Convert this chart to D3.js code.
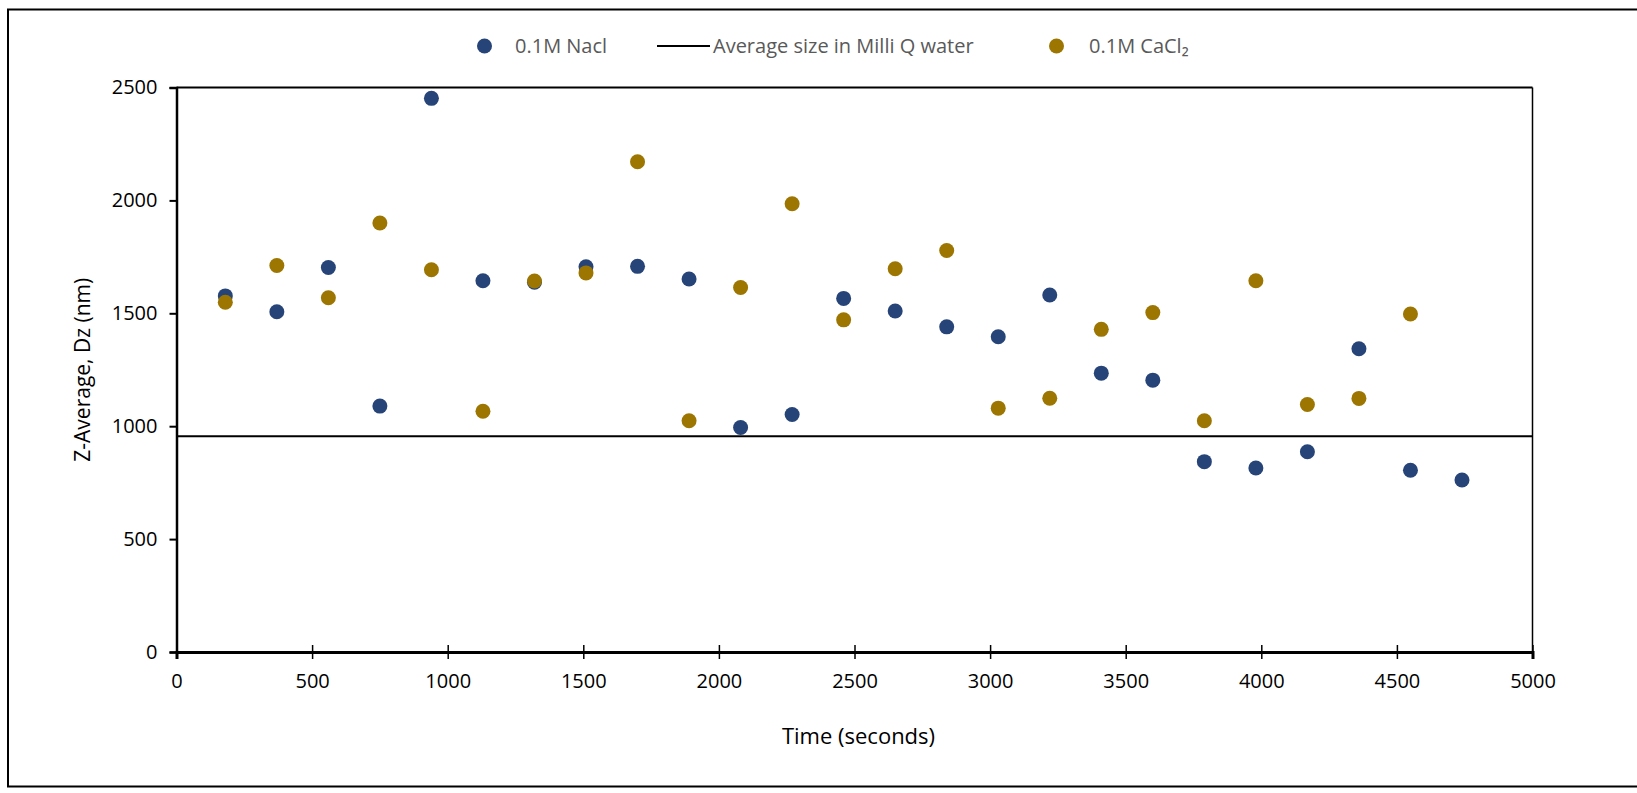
<!DOCTYPE html>
<html>
<head>
<meta charset="utf-8">
<script src="https://cdn.jsdelivr.net/npm/d3@7"></script>
<style>
  html, body { margin: 0; padding: 0; background: #ffffff; }
  svg { display: block; font-family: "Open Sans", "Noto Sans", sans-serif; }
</style>
</head>
<body>
<svg id="chart" width="1637" height="793"></svg>
<script>
// Sampling times (s)
const times = [180, 370, 560, 750, 940, 1130, 1320, 1510, 1700, 1890, 2080, 2270, 2460,
               2650, 2840, 3030, 3220, 3410, 3600, 3790, 3980, 4170, 4360, 4550, 4740];
// Z-average diameter in 0.1M NaCl (nm)
const naclValues = [1577, 1507, 1703, 1089, 2452, 1644, 1638, 1706, 1708, 1652, 994, 1052, 1566,
                    1510, 1440, 1396, 1581, 1235, 1204, 843, 815, 887, 1343, 805, 762];
// Z-average diameter in 0.1M CaCl2 (nm) — no reading at the last time point
const caclTimes  = times.slice(0, 24);
const caclValues = [1549, 1712, 1569, 1900, 1693, 1066, 1643, 1679, 2171, 1024, 1614, 1985, 1471,
                    1697, 1778, 1080, 1124, 1429, 1503, 1024, 1644, 1096, 1123, 1497];
// Reference level: average size in Milli Q water (nm)
const milliQAverage = 956;

const xTicks = [0, 500, 1000, 1500, 2000, 2500, 3000, 3500, 4000, 4500, 5000];
const yTicks = [0, 500, 1000, 1500, 2000, 2500];

const seriesNames = ["0.1M Nacl", "Average size in Milli Q water", "0.1M CaCl\u2082"];
const colors = { nacl: "#264478", cacl: "#9C7600", line: "#000000" };

const svg = d3.select("#chart");
const plot = { left: 176.5, right: 1532.5, top: 87.5, bottom: 652 };

const x = d3.scaleLinear().domain([0, 5000]).range([plot.left, plot.right]);
const y = d3.scaleLinear().domain([0, 2500]).range([plot.bottom, plot.top]);

// Outer chart frame (right edge lies outside the canvas)
svg.append("path")
  .attr("d", `M1645,9.5 H8 V786.5 H1645`)
  .attr("fill", "none").attr("stroke", "#000").attr("stroke-width", 2);

// Plot frame: top and right edges
svg.append("line").attr("x1", plot.left).attr("x2", plot.right)
  .attr("y1", y(2500)).attr("y2", y(2500)).attr("stroke", "#000").attr("stroke-width", 2);
svg.append("line").attr("x1", plot.right).attr("x2", plot.right)
  .attr("y1", plot.top).attr("y2", plot.bottom).attr("stroke", "#000").attr("stroke-width", 1.5);

// Y axis
const yAxis = svg.append("g")
  .attr("transform", `translate(${plot.left},0)`)
  .call(d3.axisLeft(y).tickValues(yTicks).tickSize(7).tickPadding(12).tickFormat(d3.format("d")));
yAxis.select(".domain").attr("stroke", "#000").attr("stroke-width", 2.5);
yAxis.selectAll(".tick line").attr("stroke", "#000").attr("stroke-width", 2);
yAxis.selectAll(".tick text").attr("font-size", 20).attr("fill", "#000")
  .attr("font-family", "'Open Sans', sans-serif");

// X axis (ticks cross the axis line)
const xAxis = svg.append("g")
  .attr("transform", `translate(0,${plot.bottom})`)
  .call(d3.axisBottom(x).tickValues(xTicks).tickSize(7).tickPadding(15).tickFormat(d3.format("d")));
xAxis.select(".domain").attr("stroke", "#000").attr("stroke-width", 3);
xAxis.selectAll(".tick line").attr("y1", -7).attr("stroke", "#000").attr("stroke-width", 1.5);
xAxis.selectAll(".tick text").attr("font-size", 20).attr("fill", "#000")
  .attr("font-family", "'Open Sans', sans-serif");

// Milli Q reference line
svg.append("line")
  .attr("x1", plot.left).attr("x2", plot.right)
  .attr("y1", y(milliQAverage)).attr("y2", y(milliQAverage))
  .attr("stroke", colors.line).attr("stroke-width", 2);

// NaCl points
svg.append("g").selectAll("circle")
  .data(times.map((t, i) => ({ t, v: naclValues[i] })))
  .join("circle")
  .attr("cx", d => x(d.t)).attr("cy", d => y(d.v)).attr("r", 7.5)
  .attr("fill", colors.nacl);

// CaCl2 points
svg.append("g").selectAll("circle")
  .data(caclTimes.map((t, i) => ({ t, v: caclValues[i] })))
  .join("circle")
  .attr("cx", d => x(d.t)).attr("cy", d => y(d.v)).attr("r", 7.5)
  .attr("fill", colors.cacl);

// Axis titles
svg.append("text")
  .attr("x", (plot.left + plot.right) / 2 + 4).attr("y", 744)
  .attr("text-anchor", "middle").attr("font-size", 22).attr("fill", "#000")
  .text("Time (seconds)");
svg.append("text")
  .attr("transform", `translate(90,${(plot.top + plot.bottom) / 2}) rotate(-90)`)
  .attr("text-anchor", "middle").attr("font-size", 21).attr("fill", "#000")
  .text("Z-Average, Dz (nm)");

// Legend
const legend = svg.append("g").attr("font-size", 20).attr("fill", "#595959");
const ly = 46;
legend.append("circle").attr("cx", 484.5).attr("cy", ly).attr("r", 7.5).attr("fill", colors.nacl);
legend.append("text").attr("x", 515).attr("y", ly).attr("dy", "0.35em").text(seriesNames[0]);
legend.append("line").attr("x1", 657).attr("x2", 710).attr("y1", ly).attr("y2", ly)
  .attr("stroke", colors.line).attr("stroke-width", 2);
legend.append("text").attr("x", 713).attr("y", ly).attr("dy", "0.35em").text(seriesNames[1]);
legend.append("circle").attr("cx", 1056.5).attr("cy", ly).attr("r", 7.5).attr("fill", colors.cacl);
legend.append("text").attr("x", 1089).attr("y", ly).attr("dy", "0.35em").text(seriesNames[2]);
</script>
</body>
</html>
